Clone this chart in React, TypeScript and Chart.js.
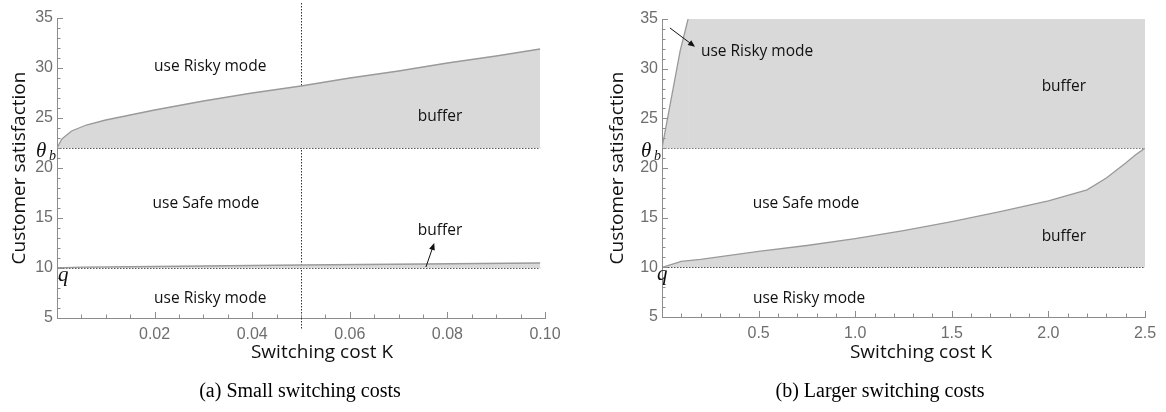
import React, { useEffect, useRef } from "react";
import { Chart, registerables } from "chart.js";

Chart.register(...registerables);

// ---------- data: panel (a) small switching costs ----------
const K_SMALL = [0, 0.001, 0.003, 0.006, 0.01, 0.015, 0.02, 0.03, 0.04, 0.05, 0.06, 0.07, 0.08, 0.09, 0.099];
const UPPER_SMALL = [22, 22.9, 23.7, 24.3, 24.8, 25.3, 25.8, 26.7, 27.5, 28.2, 29.0, 29.7, 30.5, 31.2, 31.9];
const K_SMALL_LOW = [0, 0.005, 0.02, 0.05, 0.075, 0.099];
const LOWER_SMALL = [10, 10.08, 10.15, 10.3, 10.4, 10.5];

// ---------- data: panel (b) larger switching costs ----------
const K_LARGE_UP = [0, 0.094, 0.135, 2.5];
const UPPER_LARGE = [22, 31.8, 35, 35];
const K_LARGE_LOW = [0, 0.1, 0.2, 0.5, 0.75, 1.0, 1.25, 1.5, 1.75, 2.0, 2.2, 2.3, 2.4, 2.45, 2.5];
const LOWER_LARGE = [10, 10.6, 10.8, 11.6, 12.2, 12.9, 13.7, 14.6, 15.6, 16.7, 17.8, 19.0, 20.5, 21.3, 22.0];

const THETA_B = 22;
const Q = 10;
const Y_TICKS = [5, 10, 15, 20, 25, 30, 35];

const TEXT_FONT = '"Open Sans", "Noto Sans", sans-serif';
const TICK_FONT = '"Liberation Sans", Arial, sans-serif';
const SERIF = '"Liberation Serif", "DejaVu Serif", serif';

type Note = { text: string; x: number; y: number };
type Arrow = { x1: number; y1: number; x2: number; y2: number };

interface PanelCfg {
  xMax: number;
  xMajor: number;
  xMinor: number;
  decimals: number;
  lineEnd: number;
  upperK: number[];
  upperV: number[];
  lowerK: number[];
  lowerV: number[];
  notes: Note[];
  arrows: Arrow[];
  vline: number | null;
  area: { left: number; right: number; top: number; bottom: number };
  xTitleX: number;
  yTitleX: number;
  caption: string;
  captionX: number;
  qOffset: number;
}

const PANEL_A: PanelCfg = {
  xMax: 0.1,
  xMajor: 0.02,
  xMinor: 0.005,
  decimals: 2,
  lineEnd: 0.099,
  upperK: K_SMALL,
  upperV: UPPER_SMALL,
  lowerK: K_SMALL_LOW,
  lowerV: LOWER_SMALL,
  notes: [
    { text: "use Risky mode", x: 0.0314, y: 30.1 },
    { text: "buffer", x: 0.0785, y: 25.1 },
    { text: "use Safe mode", x: 0.0305, y: 16.4 },
    { text: "buffer", x: 0.0785, y: 13.7 },
    { text: "use Risky mode", x: 0.0314, y: 6.9 },
  ],
  arrows: [{ x1: 0.0756, y1: 10.1, x2: 0.0773, y2: 12.5 }],
  vline: 0.05,
  area: { left: 57, right: 545, top: 18, bottom: 318 },
  xTitleX: 322,
  yTitleX: 20,
  caption: "(a) Small switching costs",
  captionX: 300,
  qOffset: 1,
};

const PANEL_B: PanelCfg = {
  xMax: 2.5,
  xMajor: 0.5,
  xMinor: 0.1,
  decimals: 1,
  lineEnd: 2.5,
  upperK: K_LARGE_UP,
  upperV: UPPER_LARGE,
  lowerK: K_LARGE_LOW,
  lowerV: LOWER_LARGE,
  notes: [
    { text: "use Risky mode", x: 0.492, y: 31.7 },
    { text: "buffer", x: 2.08, y: 28.2 },
    { text: "use Safe mode", x: 0.745, y: 16.4 },
    { text: "buffer", x: 2.08, y: 13.1 },
    { text: "use Risky mode", x: 0.761, y: 6.9 },
  ],
  arrows: [{ x1: 0.041, y1: 34.1, x2: 0.171, y2: 32.2 }],
  vline: null,
  area: { left: 79, right: 562, top: 19, bottom: 317 },
  xTitleX: 338,
  yTitleX: 35,
  caption: "(b) Larger switching costs",
  captionX: 297,
  qOffset: -5,
};

const CW = 583;
const CH = 412;

function pts(xs: number[], ys: number[]) {
  return xs.map((x, i) => ({ x, y: ys[i] }));
}

function drawArrow(ctx: CanvasRenderingContext2D, x1: number, y1: number, x2: number, y2: number) {
  const ang = Math.atan2(y2 - y1, x2 - x1);
  const L = 7;
  const W = 3;
  ctx.save();
  ctx.strokeStyle = "#111";
  ctx.fillStyle = "#111";
  ctx.lineWidth = 1;
  ctx.beginPath();
  ctx.moveTo(x1, y1);
  ctx.lineTo(x2 - Math.cos(ang) * L * 0.8, y2 - Math.sin(ang) * L * 0.8);
  ctx.stroke();
  ctx.beginPath();
  ctx.moveTo(x2, y2);
  ctx.lineTo(x2 - L * Math.cos(ang) + W * Math.sin(ang), y2 - L * Math.sin(ang) - W * Math.cos(ang));
  ctx.lineTo(x2 - L * Math.cos(ang) - W * Math.sin(ang), y2 - L * Math.sin(ang) + W * Math.cos(ang));
  ctx.closePath();
  ctx.fill();
  ctx.restore();
}

function makeOverlay(cfg: PanelCfg) {
  return {
    id: "overlay",
    beforeDatasetsDraw(chart: any) {
      const ctx: CanvasRenderingContext2D = chart.ctx;
      const xs = chart.scales.x;
      const { top, bottom } = chart.chartArea;
      if (cfg.vline !== null) {
        const px = Math.round(xs.getPixelForValue(cfg.vline)) + 0.5;
        ctx.save();
        ctx.strokeStyle = "#333";
        ctx.lineWidth = 1;
        ctx.setLineDash([1.5, 1.5]);
        ctx.beginPath();
        ctx.moveTo(px, top - 15);
        ctx.lineTo(px, bottom + 12);
        ctx.stroke();
        ctx.restore();
      }
    },
    afterDraw(chart: any) {
      const ctx: CanvasRenderingContext2D = chart.ctx;
      const xs = chart.scales.x;
      const ys = chart.scales.y;
      const { left, bottom, top } = chart.chartArea;
      ctx.save();
      // inward ticks
      ctx.strokeStyle = "#8c8c8c";
      ctx.lineWidth = 1;
      const nX = Math.round(cfg.xMax / cfg.xMinor);
      const perMajor = Math.round(cfg.xMajor / cfg.xMinor);
      for (let i = 1; i <= nX; i++) {
        const px = Math.round(xs.getPixelForValue(i * cfg.xMinor)) + 0.5;
        const len = i % perMajor === 0 ? 6 : 3.5;
        ctx.beginPath();
        ctx.moveTo(px, bottom);
        ctx.lineTo(px, bottom - len);
        ctx.stroke();
      }
      for (let v = 5; v <= 35; v++) {
        const py = Math.round(ys.getPixelForValue(v)) + 0.5;
        const len = v % 5 === 0 ? 6 : 3.5;
        ctx.beginPath();
        ctx.moveTo(left, py);
        ctx.lineTo(left + len, py);
        ctx.stroke();
      }
      // region notes
      ctx.fillStyle = "#111";
      ctx.font = `15.5px ${TEXT_FONT}`;
      ctx.textAlign = "center";
      ctx.textBaseline = "middle";
      for (const n of cfg.notes) {
        ctx.fillText(n.text, xs.getPixelForValue(n.x), ys.getPixelForValue(n.y));
      }
      for (const a of cfg.arrows) {
        drawArrow(
          ctx,
          xs.getPixelForValue(a.x1),
          ys.getPixelForValue(a.y1),
          xs.getPixelForValue(a.x2),
          ys.getPixelForValue(a.y2)
        );
      }
      // theta_b and q labels
      const yTheta = ys.getPixelForValue(THETA_B);
      const yQ = ys.getPixelForValue(Q);
      ctx.textAlign = "left";
      ctx.textBaseline = "alphabetic";
      ctx.font = `italic 21px ${SERIF}`;
      ctx.fillText("θ", left - 21, yTheta + 9);
      ctx.font = `italic 14px ${SERIF}`;
      ctx.fillText("b", left - 8, yTheta + 12);
      ctx.font = `italic 21px ${SERIF}`;
      ctx.fillText("q", left + cfg.qOffset, yQ + 13);
      // axis titles
      ctx.font = `19px ${TEXT_FONT}`;
      ctx.textAlign = "center";
      ctx.textBaseline = "middle";
      ctx.fillText("Switching cost K", cfg.xTitleX, 353);
      ctx.save();
      ctx.translate(cfg.yTitleX, (top + bottom) / 2);
      ctx.rotate(-Math.PI / 2);
      ctx.fillText("Customer satisfaction", 0, 0);
      ctx.restore();
      // caption
      ctx.font = `20px ${SERIF}`;
      ctx.fillStyle = "#000";
      ctx.fillText(cfg.caption, cfg.captionX, 392);
      ctx.restore();
    },
  };
}

function Panel({ cfg, left }: { cfg: PanelCfg; left: number }) {
  const ref = useRef<HTMLCanvasElement>(null);
  useEffect(() => {
    if (!ref.current) return;
    const a = cfg.area;
    const hideFlat = (c: any) =>
      c.p0.parsed.y >= 35 && c.p1.parsed.y >= 35 ? "rgba(0,0,0,0)" : "#9a9a9a";
    const chart = new Chart(ref.current, {
      type: "line",
      data: {
        datasets: [
          {
            data: pts(cfg.upperK, cfg.upperV),
            fill: { value: THETA_B },
            backgroundColor: "#d9d9d9",
            borderColor: "#9a9a9a",
            borderWidth: 1.3,
            pointRadius: 0,
            tension: 0,
            segment: { borderColor: hideFlat },
          },
          {
            data: pts(cfg.lowerK, cfg.lowerV),
            fill: { value: Q },
            backgroundColor: "#d9d9d9",
            borderColor: "#9a9a9a",
            borderWidth: 1.3,
            pointRadius: 0,
            tension: 0,
          },
          {
            data: pts([0, cfg.lineEnd], [THETA_B, THETA_B]),
            fill: false,
            borderColor: "#222",
            borderWidth: 1.4,
            borderDash: [1.5, 1.5],
            pointRadius: 0,
          },
          {
            data: pts([0, cfg.lineEnd], [Q, Q]),
            fill: false,
            borderColor: "#222",
            borderWidth: 1.4,
            borderDash: [1.5, 1.5],
            pointRadius: 0,
          },
        ],
      },
      options: {
        responsive: false,
        animation: false,
        events: [],
        layout: { padding: { left: 0, top: a.top, right: CW - a.right, bottom: 0 } },
        plugins: { legend: { display: false }, tooltip: { enabled: false }, title: { display: false } },
        scales: {
          x: {
            type: "linear",
            min: 0,
            max: cfg.xMax,
            afterFit: (s: any) => {
              s.height = CH - a.bottom;
            },
            border: { display: true, color: "#8c8c8c", width: 1 },
            grid: { display: true, drawOnChartArea: false, drawTicks: false, color: "rgba(0,0,0,0)" },
            ticks: {
              stepSize: cfg.xMajor,
              padding: 7,
              color: "#6e6e6e",
              font: { family: TICK_FONT, size: 16 },
              maxRotation: 0,
              autoSkip: false,
              callback: (v: any) => (Math.abs(Number(v)) < 1e-9 ? "" : Number(v).toFixed(cfg.decimals)),
            },
          },
          y: {
            type: "linear",
            min: 5,
            max: 35,
            afterFit: (s: any) => {
              s.width = a.left;
            },
            afterBuildTicks: (s: any) => {
              s.ticks = Y_TICKS.map((v) => ({ value: v }));
            },
            border: { display: true, color: "#8c8c8c", width: 1 },
            grid: { display: true, drawOnChartArea: false, drawTicks: false, color: "rgba(0,0,0,0)" },
            ticks: {
              padding: 4,
              color: "#6e6e6e",
              font: { family: TICK_FONT, size: 16 },
            },
          },
        },
      },
      plugins: [makeOverlay(cfg)],
    } as any);
    return () => chart.destroy();
  }, [cfg]);
  return (
    <canvas
      ref={ref}
      width={CW}
      height={CH}
      style={{ position: "absolute", left, top: 0, width: CW, height: CH }}
    />
  );
}

export default function App() {
  return (
    <div style={{ position: "fixed", left: 0, top: 0, width: 1166, height: 412, background: "#fff", overflow: "hidden" }}>
      <Panel cfg={PANEL_A} left={0} />
      <Panel cfg={PANEL_B} left={583} />
    </div>
  );
}
